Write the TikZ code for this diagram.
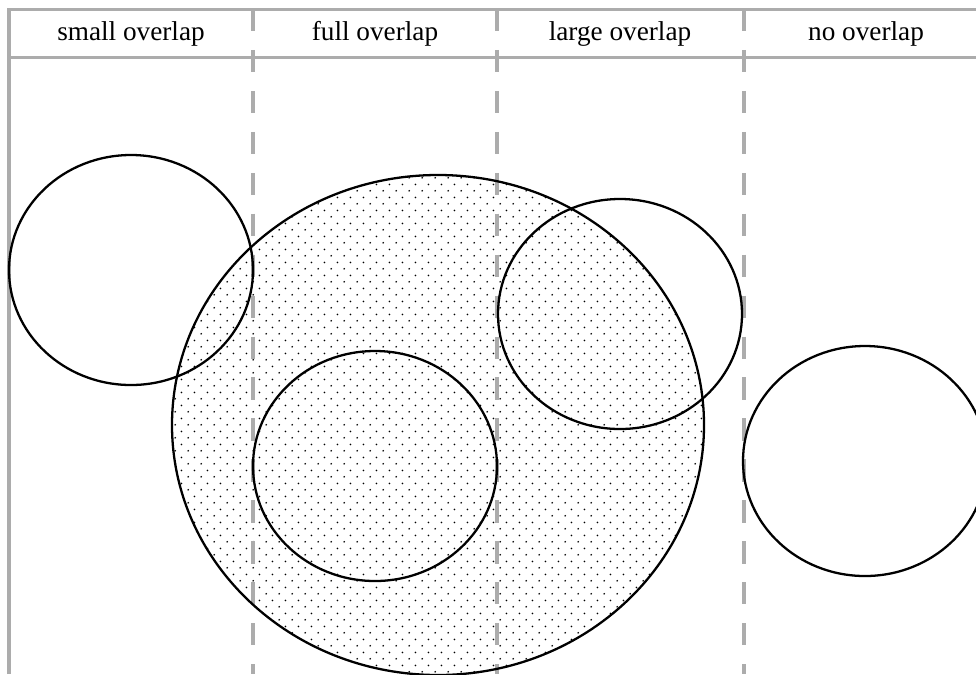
\documentclass[tikz,border=0pt]{standalone}
\usepackage{fontspec}
\setmainfont{Liberation Serif}
\usetikzlibrary{patterns.meta}
\tikzdeclarepattern{
  name=stagdots,
  type=uncolored,
  bounding box={(0pt,0pt) and (7.55pt,7.6pt)},
  tile size={(7.55pt,7.6pt)},
  code={
    \fill (1.9pt,1.9pt) circle (0.55pt);
    \fill (5.65pt,5.7pt) circle (0.55pt);
  }
}
\tikzset{
  frame/.style={draw=gray!65, line width=1.9pt},
  divider/.style={frame, dash pattern=on 12.7 off 10.6},
  ring/.style={draw=black, line width=1.3pt},
  head/.style={font=\fontsize{15.5}{18}\selectfont, anchor=center},
}
\begin{document}
\begin{tikzpicture}[x=0.02cm, y=-0.02cm]
  \useasboundingbox (0,0) rectangle (976,674);
  % dotted area
  \path[pattern={stagdots}, pattern color=black] (438,425) ellipse (266 and 250);
  % table frame
  \draw[frame] (9,674) -- (9,9.5) -- (976,9.5);
  \draw[frame] (9,57.5) -- (976,57.5);
  \foreach \x in {253,497,744}
    \draw[divider] (\x,9) -- (\x,674);
  % column heads
  \node[head] (hsmall) at (131,34) {small overlap};
  \node[head] (hfull)  at (375,34) {full overlap};
  \node[head] (hlarge) at (620,34) {large overlap};
  \node[head] (hnone)  at (866,34) {no overlap};
  % circles
  \draw[ring] (438,425) ellipse (266 and 250);
  \draw[ring] (131,270) ellipse (122 and 115);
  \draw[ring] (375,466) ellipse (122 and 115);
  \draw[ring] (620,314) ellipse (122 and 115);
  \draw[ring] (865,461) ellipse (122 and 115);
\end{tikzpicture}
\end{document}
